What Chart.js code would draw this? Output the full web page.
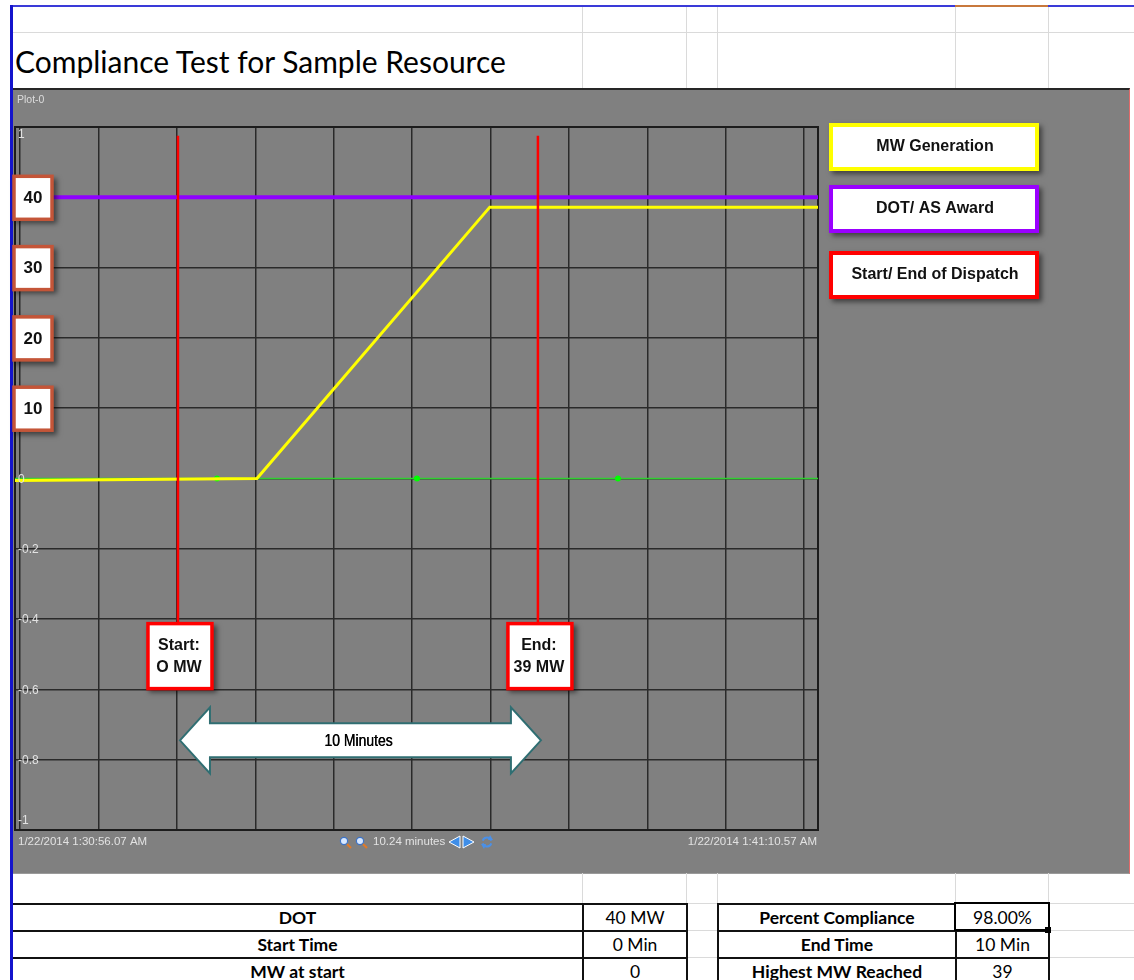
<!DOCTYPE html>
<html>
<head>
<meta charset="utf-8">
<script src="https://cdn.jsdelivr.net/npm/chart.js@4.4.1/dist/chart.umd.min.js"></script>
<style>
html,body{margin:0;padding:0;background:#fff;}
body{width:1134px;height:980px;position:relative;overflow:hidden;font-family:Lato,"Liberation Sans",sans-serif;}
.ln{position:absolute;}
.cell{position:absolute;height:27px;line-height:27px;text-align:center;font-size:17.5px;color:#000;white-space:nowrap;}
.b{font-weight:bold;}
#title{position:absolute;left:15px;top:43px;font-size:30px;line-height:36px;color:#000;white-space:nowrap;}
#panel{position:absolute;left:13px;top:88px;width:1116px;height:783px;background:#808080;border-top:2px solid #262626;border-right:1px solid #e06a6a;border-bottom:1px solid #9a9a9a;}
#c{position:absolute;left:0;top:0;z-index:5;}
</style>
</head>
<body>
<div id="title">Compliance Test for Sample Resource</div>
<div id="panel"></div>
<canvas id="c" width="1134" height="980"></canvas>
<script>
// ---------------- data ----------------
// x values are minutes after 1:30:00 AM
const xStartMin = 0.9345;    // 1:30:56.07 AM
const xEndMin = 11.1762;     // 1:41:10.57 AM
const xEdgeLabels = ['1/22/2014 1:30:56.07 AM', '1/22/2014 1:41:10.57 AM'];
const xGridMinutes = [1, 2, 3, 4, 5, 6, 7, 8, 9, 10, 11];
const yTickValues = [-1, -0.8, -0.6, -0.4, -0.2, 0, 0.2, 0.4, 0.6, 0.8, 1];

const genTimes = [0.9345, 4.02, 6.99, 11.1762];
const genValues = [-0.006, 0.0, 0.772, 0.772];
const dotTimes = [0.9345, 11.1762];
const dotValues = [0.8, 0.8];
const baseTimes = [0.9345, 3.511, 6.061, 8.625, 11.1762];
const baseValues = [0, 0, 0, 0, 0];
const dispatchTimes = [3.013, 7.604];
const dispatchTop = 0.975;
const dispatchBottom = -0.41;

const mwBoxLabels = ['10', '20', '30', '40'];
const mwBoxValues = [0.2, 0.4, 0.6, 0.8];
const dispatchBoxLines = [['Start:', 'O MW'], ['End:', '39 MW']];
const arrowLabel = '10 Minutes';
const arrowValue = -0.745;
const legendLabels = ['MW Generation', 'DOT/ AS Award', 'Start/ End of Dispatch'];

const tableLeftLabels = ['DOT', 'Start Time', 'MW at start'];
const tableLeftValues = ['40 MW', '0 Min', '0'];
const tableRightLabels = ['Percent Compliance', 'End Time', 'Highest MW Reached'];
const tableRightValues = ['98.00%', '10 Min', '39'];

// ---------------- spreadsheet decoration ----------------
function addLine(x, y, w, h, color) {
  const d = document.createElement('div');
  d.className = 'ln';
  d.style.cssText = `left:${x}px;top:${y}px;width:${w}px;height:${h}px;background:${color};`;
  document.body.appendChild(d);
}
function addCell(x, y, w, text, bold) {
  const d = document.createElement('div');
  d.className = 'cell' + (bold ? ' b' : '');
  d.style.left = x + 'px'; d.style.top = y + 'px'; d.style.width = w + 'px';
  d.textContent = text;
  document.body.appendChild(d);
}
const colX = [582, 686, 717, 955, 1048];
addLine(13, 32, 1121, 1, '#dadada');
colX.forEach(x => { addLine(x, 7, 1, 81, '#dadada'); addLine(x, 873, 1, 30, '#dadada'); });
addLine(10, 5, 1124, 2, '#3a3ad8');
addLine(955, 5, 93, 2, '#c8783c');
addLine(10, 5, 3, 975, '#1414cc');
const rowY = [903, 930, 957, 984];
rowY.forEach(y => {
  addLine(13, y, 673, 2, '#111');
  addLine(686, y, 31, 1, '#dadada');
  addLine(717, y, 333, 2, '#111');
  addLine(1050, y, 84, 1, '#dadada');
});
[582, 686, 717, 955, 1048].forEach(x => addLine(x, 903, 2, 80, '#111'));
for (let i = 0; i < 3; i++) {
  const y = rowY[i] + 1;
  addCell(13, y, 569, tableLeftLabels[i], true);
  addCell(584, y, 102, tableLeftValues[i], false);
  addCell(719, y, 236, tableRightLabels[i], true);
  addCell(957, y, 91, tableRightValues[i], false);
}
// selected cell
(function () {
  const d = document.createElement('div');
  d.className = 'ln';
  d.style.cssText = 'left:954px;top:902px;width:92px;height:25px;border:2px solid #000;box-shadow:inset 0 0 0 1px #fff;';
  document.body.appendChild(d);
  addLine(1045, 927, 6, 6, '#000');
})();

// ---------------- chart ----------------
const pts = (xs, ys) => xs.map((x, i) => ({ x: x, y: ys[i] }));

const decor = {
  id: 'decor',
  beforeDatasetsDraw(chart) {
    const { ctx, chartArea: a } = chart;
    ctx.save();
    ctx.strokeStyle = '#1c1c1c';
    ctx.lineWidth = 2;
    ctx.strokeRect(a.left, a.top, a.right - a.left, a.bottom - a.top);
    ctx.restore();
  },
  afterDraw(chart) {
    const { ctx, chartArea: a, scales: { x, y } } = chart;
    ctx.save();
    const lf = '"Liberation Sans", Arial, sans-serif';
    // Plot title
    ctx.fillStyle = '#dcdcdc';
    ctx.font = '10.5px ' + lf;
    ctx.textBaseline = 'middle';
    ctx.textAlign = 'left';
    ctx.fillText('Plot-0', a.left + 2, a.top - 27);
    // y tick labels (inside plot)
    ctx.font = '12px ' + lf;
    ctx.fillStyle = '#e2e2e2';
    yTickValues.forEach(v => {
      let py = y.getPixelForValue(v);
      py = Math.min(Math.max(py + 1, a.top + 8), a.bottom - 9);
      const t = v === 0 ? '0' : String(+v.toFixed(1));
      ctx.fillText(t, a.left + 3, py);
    });
    // x labels
    const ly = a.bottom + 12;
    ctx.font = '11.5px ' + lf;
    ctx.textAlign = 'left';
    ctx.fillText(xEdgeLabels[0], a.left + 3, ly);
    ctx.textAlign = 'right';
    ctx.fillText(xEdgeLabels[1], a.right - 1, ly);
    ctx.textAlign = 'left';
    const span = (xEndMin - xStartMin).toFixed(2) + ' minutes';
    ctx.fillText(span, 373, ly);
    // zoom icons
    [345, 361].forEach(cx => {
      ctx.beginPath();
      ctx.strokeStyle = '#e07a28'; ctx.lineWidth = 2.2;
      ctx.moveTo(cx + 2, ly + 2); ctx.lineTo(cx + 6, ly + 6); ctx.stroke();
      ctx.beginPath();
      ctx.arc(cx - 1, ly - 1, 3.6, 0, Math.PI * 2);
      ctx.fillStyle = '#d8e8ff'; ctx.fill();
      ctx.strokeStyle = '#3d74c8'; ctx.lineWidth = 1.2; ctx.stroke();
    });
    // arrows
    ctx.fillStyle = '#3f8ee8'; ctx.strokeStyle = '#ffffff'; ctx.lineWidth = 1;
    ctx.beginPath(); ctx.moveTo(449, ly); ctx.lineTo(460, ly - 6); ctx.lineTo(460, ly + 6); ctx.closePath(); ctx.fill(); ctx.stroke();
    ctx.beginPath(); ctx.moveTo(474, ly); ctx.lineTo(463, ly - 6); ctx.lineTo(463, ly + 6); ctx.closePath(); ctx.fill(); ctx.stroke();
    // refresh icon
    ctx.strokeStyle = '#4a90e8'; ctx.lineWidth = 2;
    ctx.beginPath(); ctx.arc(487, ly, 4.5, Math.PI * 1.1, Math.PI * 1.9); ctx.stroke();
    ctx.beginPath(); ctx.arc(487, ly, 4.5, Math.PI * 0.1, Math.PI * 0.9); ctx.stroke();
    ctx.fillStyle = '#4a90e8';
    ctx.beginPath(); ctx.moveTo(490, ly - 7); ctx.lineTo(493, ly - 2); ctx.lineTo(488, ly - 2); ctx.fill();
    ctx.beginPath(); ctx.moveTo(484, ly + 7); ctx.lineTo(481, ly + 2); ctx.lineTo(486, ly + 2); ctx.fill();

    const shadowBox = (bx, by, bw, bh, color, lw) => {
      ctx.save();
      ctx.shadowColor = 'rgba(0,0,0,0.5)';
      ctx.shadowBlur = 5; ctx.shadowOffsetX = 3; ctx.shadowOffsetY = 3;
      ctx.fillStyle = color;
      ctx.fillRect(bx - lw / 2, by - lw / 2, bw + lw, bh + lw);
      ctx.restore();
      ctx.fillStyle = '#ffffff';
      ctx.fillRect(bx + lw / 2, by + lw / 2, bw - lw, bh - lw);
    };

    // MW boxes on the left
    mwBoxValues.forEach((v, i) => {
      const cy = y.getPixelForValue(v);
      shadowBox(a.left - 1, cy - 21, 38, 43, '#c45538', 3.5);
      ctx.fillStyle = '#111';
      ctx.font = 'bold 17px ' + lf;
      ctx.textAlign = 'center'; ctx.textBaseline = 'middle';
      ctx.fillText(mwBoxLabels[i], a.left + 18, cy + 1);
    });

    // start / end boxes
    dispatchTimes.forEach((t, i) => {
      const px = x.getPixelForValue(t);
      const top = y.getPixelForValue(dispatchBottom);
      shadowBox(px - 30, top + 1, 64, 65, '#ff0000', 3.5);
      ctx.fillStyle = '#111';
      ctx.font = 'bold 16px ' + lf;
      ctx.textAlign = 'center'; ctx.textBaseline = 'middle';
      ctx.fillText(dispatchBoxLines[i][0], px + 1, top + 23);
      ctx.fillText(dispatchBoxLines[i][1], px + 1, top + 45);
    });

    // double arrow
    const x0 = x.getPixelForValue(dispatchTimes[0]) + 2;
    const x1 = x.getPixelForValue(dispatchTimes[1]) + 3;
    const yc = y.getPixelForValue(arrowValue);
    const hl = 30, hh = 33, bh = 17;
    ctx.beginPath();
    ctx.moveTo(x0, yc);
    ctx.lineTo(x0 + hl, yc - hh); ctx.lineTo(x0 + hl, yc - bh);
    ctx.lineTo(x1 - hl, yc - bh); ctx.lineTo(x1 - hl, yc - hh);
    ctx.lineTo(x1, yc);
    ctx.lineTo(x1 - hl, yc + hh); ctx.lineTo(x1 - hl, yc + bh);
    ctx.lineTo(x0 + hl, yc + bh); ctx.lineTo(x0 + hl, yc + hh);
    ctx.closePath();
    ctx.fillStyle = '#ffffff'; ctx.fill();
    ctx.strokeStyle = '#2f6e72'; ctx.lineWidth = 2; ctx.lineJoin = 'miter'; ctx.stroke();
    ctx.save();
    ctx.translate((x0 + x1) / 2 - 2, yc);
    ctx.scale(0.82, 1);
    ctx.fillStyle = '#000';
    ctx.font = '17px ' + lf;
    ctx.textAlign = 'center'; ctx.textBaseline = 'middle';
    ctx.fillText(arrowLabel, 0, 1);
    ctx.fillText(arrowLabel, 0.4, 1);
    ctx.restore();

    // legend boxes
    const legColors = ['#ffff00', '#9a00ff', '#ff0000'];
    const legTops = [125, 187, 253];
    legendLabels.forEach((lab, i) => {
      const bx = a.right + 13;
      shadowBox(bx, legTops[i], 206, 44, legColors[i], 4);
      ctx.fillStyle = '#111';
      ctx.font = 'bold 16px ' + lf;
      ctx.textAlign = 'center'; ctx.textBaseline = 'middle';
      ctx.fillText(lab, bx + 104, legTops[i] + 22);
    });
    ctx.restore();
  }
};

const gridOpts = { color: '#2a2a2a', lineWidth: 1.5, drawTicks: false };
new Chart(document.getElementById('c'), {
  type: 'line',
  data: {
    datasets: [
      { label: 'Start of Dispatch', data: pts([dispatchTimes[0], dispatchTimes[0]], [dispatchTop, dispatchBottom]), borderColor: '#ff0000', borderWidth: 2.5, pointRadius: 0 },
      { label: 'End of Dispatch', data: pts([dispatchTimes[1], dispatchTimes[1]], [dispatchTop, dispatchBottom]), borderColor: '#ff0000', borderWidth: 2.5, pointRadius: 0 },
      { label: 'DOT/ AS Award', data: pts(dotTimes, dotValues), borderColor: '#8f00ff', borderWidth: 4, pointRadius: 0 },
      { label: 'MW Generation', data: pts(genTimes, genValues), borderColor: '#ffff00', borderWidth: 3, pointRadius: 0 },
      { label: 'Baseline', data: pts(baseTimes, baseValues), borderColor: '#2fd02f', borderWidth: 1.5,
        pointRadius: c => (c.dataIndex === 0 || c.dataIndex === baseTimes.length - 1) ? 0 : 3,
        pointBackgroundColor: '#00ff00', pointBorderWidth: 0 }
    ]
  },
  options: {
    responsive: false,
    animation: false,
    layout: { padding: { left: 15, top: 127, right: 316, bottom: 150 } },
    scales: {
      x: { type: 'linear', min: xStartMin, max: xEndMin,
           afterBuildTicks: s => { s.ticks = xGridMinutes.map(v => ({ value: v })); },
           grid: gridOpts, border: { display: false }, ticks: { display: false } },
      y: { type: 'linear', min: -1, max: 1,
           afterBuildTicks: s => { s.ticks = yTickValues.map(v => ({ value: v })); },
           grid: gridOpts, border: { display: false }, ticks: { display: false } }
    },
    plugins: { legend: { display: false }, tooltip: { enabled: false } }
  },
  plugins: [decor]
});
</script>
</body>
</html>
